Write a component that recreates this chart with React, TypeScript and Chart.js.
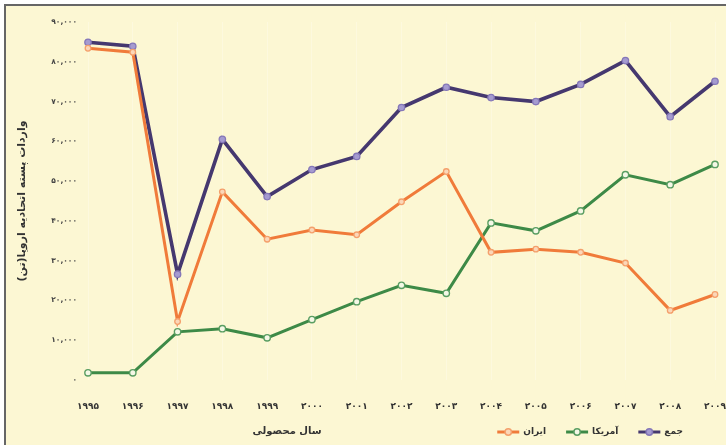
import React, { useEffect, useRef } from "react";
import { Chart, registerables } from "chart.js";

Chart.register(...registerables);

// ---- data ----
const years = ["۱۹۹۵", "۱۹۹۶", "۱۹۹۷", "۱۹۹۸", "۱۹۹۹", "۲۰۰۰", "۲۰۰۱", "۲۰۰۲", "۲۰۰۳", "۲۰۰۴", "۲۰۰۵", "۲۰۰۶", "۲۰۰۷", "۲۰۰۸", "۲۰۰۹"];
const iran = [83400, 82400, 14700, 47300, 35400, 37700, 36500, 44800, 52400, 32100, 32900, 32100, 29400, 17500, 21500];
const usa = [1800, 1800, 12100, 12900, 10600, 15200, 19700, 23800, 21800, 39500, 37500, 42500, 51600, 49100, 54200];
const total = [84900, 83900, 26600, 60500, 46100, 52900, 56200, 68500, 73600, 71000, 70000, 74300, 80300, 66200, 75100];
const yTickLabels = ["۰", "۱۰,۰۰۰", "۲۰,۰۰۰", "۳۰,۰۰۰", "۴۰,۰۰۰", "۵۰,۰۰۰", "۶۰,۰۰۰", "۷۰,۰۰۰", "۸۰,۰۰۰", "۹۰,۰۰۰"];
const seriesNames = ["ایران", "آمریکا", "جمع"];
const yTitle = "واردات پسته اتحادیه اروپا(تن)";
const xTitle = "سال محصولی";

const FONT = '"DejaVu Sans", sans-serif';
const BG = "#fcf7d3";

const overlayPlugin = {
  id: "overlay",
  afterDraw(chart: any) {
    const ctx = chart.ctx;
    ctx.save();
    // x axis title
    ctx.font = `bold 10px ${FONT}`;
    ctx.fillStyle = "#333";
    ctx.textAlign = "center";
    ctx.textBaseline = "middle";
    ctx.fillText(xTitle, 287, 431);
    // legend (RTL order: first item at right)
    ctx.font = `bold 9px ${FONT}`;
    let xRight = 683;
    const order = [2, 1, 0];
    for (const di of order) {
      const ds = chart.data.datasets[di];
      const w = ctx.measureText(ds.label).width;
      ctx.fillStyle = "#333";
      ctx.textAlign = "right";
      ctx.fillText(ds.label, xRight, 432);
      const mR = xRight - w - 4;
      const mL = mR - 22;
      const y = 432;
      ctx.strokeStyle = ds.borderColor;
      ctx.lineWidth = 3;
      ctx.beginPath();
      ctx.moveTo(mL, y);
      ctx.lineTo(mR, y);
      ctx.stroke();
      ctx.beginPath();
      ctx.arc((mL + mR) / 2, y, 3.2, 0, Math.PI * 2);
      ctx.fillStyle = ds.pointBackgroundColor;
      ctx.fill();
      ctx.lineWidth = 1.5;
      ctx.strokeStyle = ds.pointBorderColor;
      ctx.stroke();
      xRight = mL - 20;
    }
    ctx.restore();
  },
};

export default function App() {
  const ref = useRef<HTMLCanvasElement>(null);
  useEffect(() => {
    document.body.style.margin = "0";
    document.body.style.overflow = "hidden";
    const chart = new Chart(ref.current!, {
      type: "line",
      data: {
        labels: years,
        datasets: [
          {
            label: seriesNames[0],
            data: iran,
            borderColor: "#f07b3a",
            borderWidth: 3,
            pointRadius: 2.8,
            pointBackgroundColor: "#fbd7b8",
            pointBorderColor: "#f4a06c",
            pointBorderWidth: 1.3,
            tension: 0,
          },
          {
            label: seriesNames[1],
            data: usa,
            borderColor: "#3d8a47",
            borderWidth: 3,
            pointRadius: 3.2,
            pointBackgroundColor: "#f4f8e6",
            pointBorderColor: "#5a9e62",
            pointBorderWidth: 1.4,
            tension: 0,
          },
          {
            label: seriesNames[2],
            data: total,
            borderColor: "#45386f",
            borderWidth: 3.6,
            pointRadius: 3.2,
            pointBackgroundColor: "#a59bd0",
            pointBorderColor: "#8577b8",
            pointBorderWidth: 1.3,
            tension: 0,
          },
        ],
      },
      options: {
        animation: false,
        responsive: true,
        maintainAspectRatio: false,
        layout: { padding: { left: 0, top: 22, right: 11, bottom: 0 } },
        plugins: { legend: { display: false }, tooltip: { enabled: false } },
        scales: {
          x: {
            offset: false,
            border: { display: false },
            grid: { display: true, color: "rgba(255,255,255,0.25)", drawTicks: false },
            ticks: {
              color: "#333",
              font: { family: FONT, size: 9, weight: "bold" },
              padding: 21,
              maxRotation: 0,
              autoSkip: false,
            },
            afterFit(scale: any) {
              scale.height = 65;
              scale.paddingLeft = 0;
              scale.paddingRight = 0;
            },
          },
          y: {
            min: 0,
            max: 90000,
            border: { display: false },
            grid: { display: false, drawTicks: false },
            ticks: {
              stepSize: 10000,
              color: "#444",
              font: { family: FONT, size: 7.5, weight: "bold" },
              padding: 11,
              callback: (_v: any, i: number) => yTickLabels[i],
            },
            title: {
              display: true,
              text: yTitle,
              color: "#333",
              font: { family: FONT, size: 11, weight: "bold" },
              padding: { top: 16, bottom: 0 },
            },
            afterFit(scale: any) {
              scale.width = 88;
            },
          },
        },
      },
      plugins: [overlayPlugin],
    });
    return () => chart.destroy();
  }, []);

  return (
    <div style={{ position: "absolute", left: 0, top: 0, width: 726, height: 445, background: "#fff", overflow: "hidden" }}>
      <div
        style={{
          position: "absolute",
          left: 4,
          top: 4,
          width: 740,
          height: 460,
          borderLeft: "2px solid #666",
          borderTop: "2px solid #666",
          background: BG,
        }}
      />
      <div style={{ position: "absolute", left: 0, top: 0, width: 726, height: 445 }}>
        <canvas ref={ref} />
      </div>
    </div>
  );
}
